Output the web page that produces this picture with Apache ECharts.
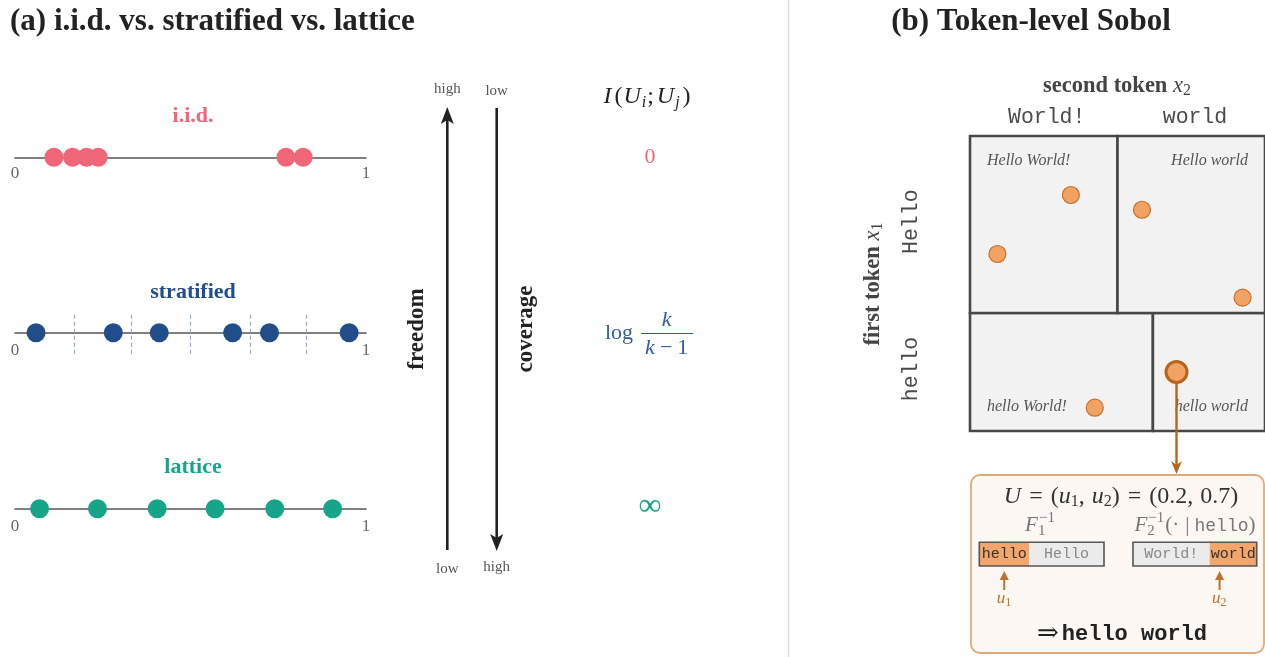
<!DOCTYPE html>
<html><head><meta charset="utf-8">
<script src="https://cdn.jsdelivr.net/npm/echarts@6/dist/echarts.min.js"></script>
<style>html,body{margin:0;padding:0;background:#fff}#c{width:1265px;height:657px}</style>
</head><body><div id="c"></div>
<script>
// ---------------- data ----------------
const rowNames = ['i.i.d.', 'stratified', 'lattice'];
const iidPoints = [0.111, 0.164, 0.204, 0.237, 0.772, 0.821];
const stratPoints = [0.060, 0.280, 0.411, 0.620, 0.725, 0.952];
const stratBounds = [0.167, 0.333, 0.5, 0.667, 0.833];
const latticePoints = [0.070, 0.235, 0.405, 0.570, 0.740, 0.905];
const axisTicks = [0, 1];

const firstTokens = ['hello', 'Hello'];          // bottom to top along u1
const firstBounds = [0, 0.4, 1];
const secondTokens = ['World!', 'world'];        // left to right along u2
const secondBoundsGiven = { 'Hello': [0, 0.5, 1], 'hello': [0, 0.62, 1] };
const sobolPoints = [[0.342, 0.800], [0.093, 0.600], [0.583, 0.750], [0.924, 0.452], [0.423, 0.079]]; // [u2, u1]
const selectedU = [0.2, 0.7]; // (u1, u2)

// ---------------- helpers ----------------
const SERIF = '"Liberation Serif","DejaVu Serif",serif';
const MONO = '"Liberation Mono","DejaVu Sans Mono",monospace';
const F = (size, style, fam) => ((style || '') + ' ' + size + 'px ' + (fam || SERIF)).trim();
const mctx = document.createElement('canvas').getContext('2d');
function meas(font, t) { mctx.font = font; return mctx.measureText(t).width; }
function txt(x, y, t, font, fill, align, z) {
  return { type: 'text', x: x, y: y, z: z || 5, silent: true,
    style: { text: t, font: font, fill: fill, align: align || 'center', verticalAlign: 'middle' } };
}
// compose math-like text from pieces
function row(cx, cy, pieces, fill, align, z) {
  let x = 0, pend = 0;
  pieces.forEach(p => {
    const w = meas(p.font, p.t);
    p.x = x + (p.gap || 0);
    if (p.stack) { pend = Math.max(pend, w + (p.gap || 0)); }
    else { x = Math.max(p.x + w, x + pend); pend = 0; }
  });
  const off = align === 'left' ? cx : (align === 'right' ? cx - x : cx - x / 2);
  return pieces.map(p => txt(off + p.x, cy + (p.dy || 0), p.t, p.font, p.fill || fill, 'left', z));
}
function rotGroup(x, y, children) {
  return { type: 'group', x: x, y: y, rotation: Math.PI / 2, children: children };
}

// ---------------- layout constants ----------------
const lineLeft = 15, lineWidth = 351;
const rowLineY = [157.3, 332.7, 508.7];
const rowColors = ['#EE6677', '#214E8A', '#17A589'];
const sq = { left: 970, top: 136, size: 295 };
const bar1 = { left: 979.3, top: 542.3, width: 124.7, height: 23.7 };
const bar2 = { left: 1133, top: 542.3, width: 123.7, height: 23.7 };

// ---------------- cells ----------------
const cells = [];
firstTokens.forEach((t1, i) => {
  const b = secondBoundsGiven[t1];
  secondTokens.forEach((t2, j) => {
    cells.push({ x0: b[j], x1: b[j + 1], y0: firstBounds[i], y1: firstBounds[i + 1], row: i, col: j, label: t1 + ' ' + t2 });
  });
});

// ---------------- graphic ----------------
const G = [];
G.push({ type: 'line', silent: true, z: 1, shape: { x1: 788.5, y1: 0, x2: 788.5, y2: 657 }, style: { stroke: '#dcdcdc', lineWidth: 1.5 } });
G.push(txt(10, 22, '(a) i.i.d. vs. stratified vs. lattice', F(31, 'bold'), '#222', 'left'));
G.push(txt(1031, 22, '(b) Token-level Sobol', F(31, 'bold'), '#222', 'center'));
const rowLabelY = [116.7, 292.7, 467.3];
rowNames.forEach((n, i) => G.push(txt(193, rowLabelY[i], n, F(22, 'bold'), rowColors[i])));

// middle arrows
const ax1 = 447.3, ax2 = 496.7;
G.push({ type: 'line', silent: true, shape: { x1: ax1, y1: 550, x2: ax1, y2: 118 }, style: { stroke: '#222', lineWidth: 2.6 } });
G.push({ type: 'polygon', silent: true, shape: { points: [[ax1, 107], [ax1 + 6.5, 124], [ax1, 120], [ax1 - 6.5, 124]] }, style: { fill: '#222' } });
G.push({ type: 'line', silent: true, shape: { x1: ax2, y1: 108, x2: ax2, y2: 540 }, style: { stroke: '#222', lineWidth: 2.6 } });
G.push({ type: 'polygon', silent: true, shape: { points: [[ax2, 551], [ax2 + 6.5, 534], [ax2, 538], [ax2 - 6.5, 534]] }, style: { fill: '#222' } });
G.push(txt(ax1, 89, 'high', F(15), '#555'));
G.push(txt(ax2, 91, 'low', F(15), '#555'));
G.push(txt(ax1, 569, 'low', F(15), '#555'));
G.push(txt(ax2, 567, 'high', F(15), '#555'));
G.push(rotGroup(416.7, 329, [txt(0, 0, 'freedom', F(23, 'bold'), '#222')]));
G.push(rotGroup(526, 329, [txt(0, 0, 'coverage', F(23, 'bold'), '#222')]));

// mutual information column
const it24 = F(24, 'italic'), n24 = F(24), it16 = F(16, 'italic'), n16 = F(16);
const it22 = F(22, 'italic'), n22 = F(22);
G.push(...row(647, 97, [
  { t: 'I', font: it24 }, { t: '(', font: n24, gap: 3 }, { t: 'U', font: it24, gap: 1 }, { t: 'i', font: it16, dy: 6, gap: 1 },
  { t: ';', font: n24, gap: 1 }, { t: 'U', font: it24, gap: 3 }, { t: 'j', font: it16, dy: 6, gap: 1 }, { t: ')', font: n24, gap: 3 }
], '#222'));
G.push(txt(650, 157, '0', F(22), rowColors[0]));
G.push(txt(605, 333, 'log', F(22), '#2E5E9E', 'left'));
G.push(txt(666.7, 320, 'k', it22, '#2E5E9E'));
G.push({ type: 'line', silent: true, shape: { x1: 641, y1: 333.5, x2: 693, y2: 333.5 }, style: { stroke: '#2E5E9E', lineWidth: 1.2 } });
G.push(...row(666.7, 348, [{ t: 'k', font: it22 }, { t: '\u2212', font: n22, gap: 5 }, { t: '1', font: n22, gap: 5 }], '#2E5E9E'));
G.push(txt(650, 507, '\u221E', F(32), rowColors[2]));

// right panel headers
G.push(...row(1117, 86, [{ t: 'second token ', font: F(22.5, 'bold') }, { t: 'x', font: F(22.5, 'italic') }, { t: '2', font: n16, dy: 5 }], '#444'));
const colHeadX = [1046.7, 1195];
secondTokens.forEach((t, j) => G.push(txt(colHeadX[j], 117.7, t, F(21.5, '', MONO), '#4a4a4a')));
const rowHeadY = [369, 221.7];
firstTokens.forEach((t, i) => G.push(rotGroup(911.7, rowHeadY[i], [txt(0, 0, t, F(21.5, '', MONO), '#4a4a4a')])));
G.push(rotGroup(873, 284, row(0, 0, [{ t: 'first token ', font: F(22.5, 'bold') }, { t: 'x', font: F(22.5, 'italic') }, { t: '1', font: n16, dy: 5 }], '#444')));

// connector from selected point to box
const selX = sq.left + selectedU[1] * sq.size, selY = sq.top + (1 - selectedU[0]) * sq.size;
G.push({ type: 'line', silent: true, z: 100, shape: { x1: selX, y1: selY + 10, x2: selX, y2: 466 }, style: { stroke: '#B5651D', lineWidth: 2.4 } });
G.push({ type: 'polygon', silent: true, z: 100, shape: { points: [[selX, 474], [selX + 5.5, 461], [selX, 465], [selX - 5.5, 461]] }, style: { fill: '#B5651D' } });

// box
G.push({ type: 'rect', silent: true, z: 0, shape: { x: 971, y: 475, width: 293, height: 178, r: 9 }, style: { fill: '#FCF7F2', stroke: '#DDAA7D', lineWidth: 1.8 } });
G.push(...row(1121, 497, [
  { t: 'U', font: it24 }, { t: '=', font: n24, gap: 8 }, { t: '(', font: n24, gap: 8 }, { t: 'u', font: it24 }, { t: '1', font: n16, dy: 5 },
  { t: ',', font: n24 }, { t: 'u', font: it24, gap: 7 }, { t: '2', font: n16, dy: 5 }, { t: ')', font: n24 },
  { t: '=', font: n24, gap: 8 }, { t: '(0.2,', font: n24, gap: 8 }, { t: '0.7)', font: n24, gap: 7 }
], '#333'));
const it21 = F(21, 'italic'), n21 = F(21), n15b = F(15);
G.push(...row(1040, 525, [{ t: 'F', font: it21 }, { t: '\u22121', font: n15b, dy: -7, stack: true, gap: 1 }, { t: '1', font: n15b, dy: 6, gap: 0 }], '#777'));
G.push(...row(1195, 525, [
  { t: 'F', font: it21 }, { t: '\u22121', font: n15b, dy: -7, stack: true, gap: 1 }, { t: '2', font: n15b, dy: 6 },
  { t: '(\u00B7', font: n21, gap: 1 }, { t: '|', font: n21, gap: 6 }, { t: 'hello', font: F(18, '', MONO), dy: 1, gap: 5 }, { t: ')', font: n21 }
], '#777'));
G.push(...row(1122, 634, [{ t: '\u21D2', font: F(26, '', '"DejaVu Serif",serif') }, { t: 'hello world', font: F(22, 'bold', MONO), gap: 3 }], '#222'));

// ---------------- series ----------------
const hiddenAxis = (gi, min, max) => ({ gridIndex: gi, type: 'value', min: min, max: max, show: false });
const lineAxis = gi => ({
  gridIndex: gi, type: 'value', min: axisTicks[0], max: axisTicks[1], interval: 1,
  axisLine: { show: true, onZero: true, lineStyle: { color: '#555', width: 1.6 } },
  axisTick: { show: false }, splitLine: { show: false },
  axisLabel: { show: true, margin: gi === 0 ? -13 : -12, color: '#666', fontSize: 17, fontFamily: SERIF }
});

function segSeries(gi, tokens, bounds, u) {
  return {
    type: 'custom', xAxisIndex: gi, yAxisIndex: gi, silent: true, z: 3,
    data: tokens.map((t, k) => [bounds[k], bounds[k + 1]]),
    renderItem: function (params, api) {
      const k = params.dataIndex;
      const x0 = bounds[k], x1 = bounds[k + 1];
      const p0 = api.coord([x0, 1]), p1 = api.coord([x1, 0]);
      const sel = u >= x0 && u < x1;
      return { type: 'group', children: [
        { type: 'rect', shape: { x: p0[0], y: p0[1], width: p1[0] - p0[0], height: p1[1] - p0[1] }, style: { fill: sel ? '#F3A56B' : '#EBEBEB' } },
        { type: 'text', x: (p0[0] + p1[0]) / 2, y: (p0[1] + p1[1]) / 2, style: { text: tokens[k], font: F(15, '', MONO), fill: sel ? '#333' : '#888', align: 'center', verticalAlign: 'middle' } }
      ] };
    }
  };
}
function borderSeries(gi) {
  return {
    type: 'custom', xAxisIndex: gi, yAxisIndex: gi, silent: true, z: 4, data: [[0, 1]],
    renderItem: function (params, api) {
      const p0 = api.coord([0, 1]), p1 = api.coord([1, 0]);
      return { type: 'rect', shape: { x: p0[0], y: p0[1], width: p1[0] - p0[0], height: p1[1] - p0[1] }, style: { fill: 'none', stroke: '#555', lineWidth: 1.6 } };
    }
  };
}
function uArrowSeries(gi, u, name) {
  return {
    type: 'custom', xAxisIndex: gi, yAxisIndex: gi, silent: true, z: 4, data: [[u, 0]],
    renderItem: function (params, api) {
      const p = api.coord([api.value(0), 0]);
      const x = p[0], yb = p[1];
      const c = '#C0702A';
      return { type: 'group', children: [
        { type: 'line', shape: { x1: x, y1: yb + 24, x2: x, y2: yb + 11 }, style: { stroke: c, lineWidth: 2 } },
        { type: 'polygon', shape: { points: [[x, yb + 5], [x + 4.5, yb + 14], [x - 4.5, yb + 14]] }, style: { fill: c } },
        { type: 'text', x: x + 1, y: yb + 33, style: { text: 'u', font: F(17, 'italic'), fill: c, align: 'right', verticalAlign: 'middle' } },
        { type: 'text', x: x + 1, y: yb + 37, style: { text: name, font: F(12), fill: c, align: 'left', verticalAlign: 'middle' } }
      ] };
    }
  };
}

const option = {
  animation: false,
  backgroundColor: '#fff',
  grid: [
    { left: lineLeft, width: lineWidth, top: rowLineY[0] - 21, height: 42 },
    { left: lineLeft, width: lineWidth, top: rowLineY[1] - 21, height: 42 },
    { left: lineLeft, width: lineWidth, top: rowLineY[2] - 21, height: 42 },
    { left: sq.left, top: sq.top, width: sq.size, height: sq.size },
    { left: bar1.left, top: bar1.top, width: bar1.width, height: bar1.height },
    { left: bar2.left, top: bar2.top, width: bar2.width, height: bar2.height }
  ],
  xAxis: [lineAxis(0), lineAxis(1), lineAxis(2), hiddenAxis(3, 0, 1), hiddenAxis(4, 0, 1), hiddenAxis(5, 0, 1)],
  yAxis: [hiddenAxis(0, -1, 1), hiddenAxis(1, -1, 1), hiddenAxis(2, -1, 1), hiddenAxis(3, 0, 1), hiddenAxis(4, 0, 1), hiddenAxis(5, 0, 1)],
  graphic: G,
  series: [
    { type: 'scatter', xAxisIndex: 0, yAxisIndex: 0, silent: true, symbolSize: 19, itemStyle: { color: rowColors[0], opacity: 1 }, data: iidPoints.map(v => [v, 0]) },
    { type: 'scatter', xAxisIndex: 1, yAxisIndex: 1, silent: true, symbolSize: 19, itemStyle: { color: rowColors[1], opacity: 1 }, data: stratPoints.map(v => [v, 0]),
      markLine: { silent: true, symbol: 'none', label: { show: false }, lineStyle: { type: [4, 3], color: '#93AACB', width: 1.2 }, data: stratBounds.map(v => ({ xAxis: v })) } },
    { type: 'scatter', xAxisIndex: 2, yAxisIndex: 2, silent: true, symbolSize: 19, itemStyle: { color: rowColors[2], opacity: 1 }, data: latticePoints.map(v => [v, 0]) },
    {
      type: 'custom', xAxisIndex: 3, yAxisIndex: 3, silent: true, z: 1,
      data: cells.map(c => [c.x0, c.x1, c.y0, c.y1]),
      renderItem: function (params, api) {
        const c = cells[params.dataIndex];
        const p0 = api.coord([c.x0, c.y1]), p1 = api.coord([c.x1, c.y0]);
        const lx = c.col === 0 ? p0[0] + 17 : p1[0] - 17;
        const ly = c.row === 1 ? p0[1] + 25 : p1[1] - 24;
        return { type: 'group', children: [
          { type: 'rect', shape: { x: p0[0], y: p0[1], width: p1[0] - p0[0], height: p1[1] - p0[1] }, style: { fill: '#F2F2F2', stroke: '#474747', lineWidth: 2.6 } },
          { type: 'text', x: lx, y: ly, style: { text: c.label, font: F(16, 'italic'), fill: '#555', align: c.col === 0 ? 'left' : 'right', verticalAlign: 'middle' } }
        ] };
      }
    },
    { type: 'scatter', xAxisIndex: 3, yAxisIndex: 3, silent: true, z: 3, symbolSize: 17, itemStyle: { color: '#F2A262', borderColor: '#C8702A', borderWidth: 1.2, opacity: 1 }, data: sobolPoints },
    { type: 'scatter', xAxisIndex: 3, yAxisIndex: 3, silent: true, z: 3, symbolSize: 21, itemStyle: { color: '#F2A262', borderColor: '#B5651D', borderWidth: 3, opacity: 1 }, data: [[selectedU[1], selectedU[0]]] },
    segSeries(4, firstTokens, firstBounds, selectedU[0]),
    borderSeries(4),
    uArrowSeries(4, selectedU[0], '1'),
    segSeries(5, secondTokens, secondBoundsGiven['hello'], selectedU[1]),
    borderSeries(5),
    uArrowSeries(5, selectedU[1], '2')
  ]
};
const chart = echarts.init(document.getElementById('c'), null, { renderer: 'canvas' });
chart.setOption(option);
</script>
</body></html>
